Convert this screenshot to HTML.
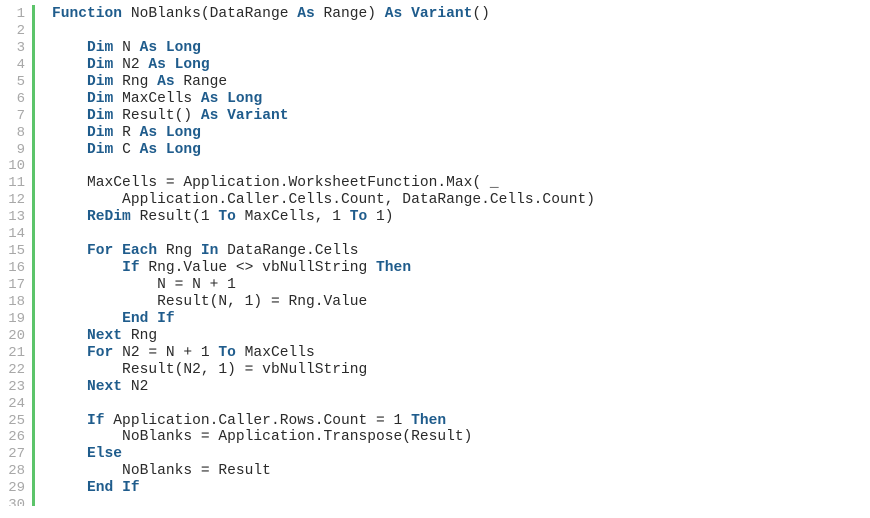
<!DOCTYPE html>
<html><head><meta charset="utf-8"><style>
html,body{margin:0;padding:0;background:#fff;width:870px;height:518px;overflow:hidden}
#wrap{position:absolute;left:0;top:0;width:870px;height:506px;overflow:hidden}
.bar{position:absolute;left:32px;top:5px;width:3px;height:501px;background:#5cc46a}
.ln{position:absolute;left:0;width:25px;text-align:right;color:#a8a8a8;font:14px/17px "Liberation Mono",monospace}
.code{position:absolute;left:52px;top:6px;margin:0;font:14.6px/16.93px "Liberation Mono",monospace;color:#2a2a2a;white-space:pre}
b{color:#1f5c8c}
</style></head><body><div id="wrap">
<div class="bar"></div>
<div class="ln" style="top:6px;line-height:16.93px">1<br>2<br>3<br>4<br>5<br>6<br>7<br>8<br>9<br>10<br>11<br>12<br>13<br>14<br>15<br>16<br>17<br>18<br>19<br>20<br>21<br>22<br>23<br>24<br>25<br>26<br>27<br>28<br>29<br>30</div>
<pre class="code"><b>Function</b> NoBlanks(DataRange <b>As</b> Range) <b>As</b> <b>Variant</b>()

    <b>Dim</b> N <b>As</b> <b>Long</b>
    <b>Dim</b> N2 <b>As</b> <b>Long</b>
    <b>Dim</b> Rng <b>As</b> Range
    <b>Dim</b> MaxCells <b>As</b> <b>Long</b>
    <b>Dim</b> Result() <b>As</b> <b>Variant</b>
    <b>Dim</b> R <b>As</b> <b>Long</b>
    <b>Dim</b> C <b>As</b> <b>Long</b>

    MaxCells = Application.WorksheetFunction.Max( _
        Application.Caller.Cells.Count, DataRange.Cells.Count)
    <b>ReDim</b> Result(1 <b>To</b> MaxCells, 1 <b>To</b> 1)

    <b>For</b> <b>Each</b> Rng <b>In</b> DataRange.Cells
        <b>If</b> Rng.Value &lt;&gt; vbNullString <b>Then</b>
            N = N + 1
            Result(N, 1) = Rng.Value
        <b>End</b> <b>If</b>
    <b>Next</b> Rng
    <b>For</b> N2 = N + 1 <b>To</b> MaxCells
        Result(N2, 1) = vbNullString
    <b>Next</b> N2

    <b>If</b> Application.Caller.Rows.Count = 1 <b>Then</b>
        NoBlanks = Application.Transpose(Result)
    <b>Else</b>
        NoBlanks = Result
    <b>End</b> <b>If</b>
</pre>
</div></body></html>
